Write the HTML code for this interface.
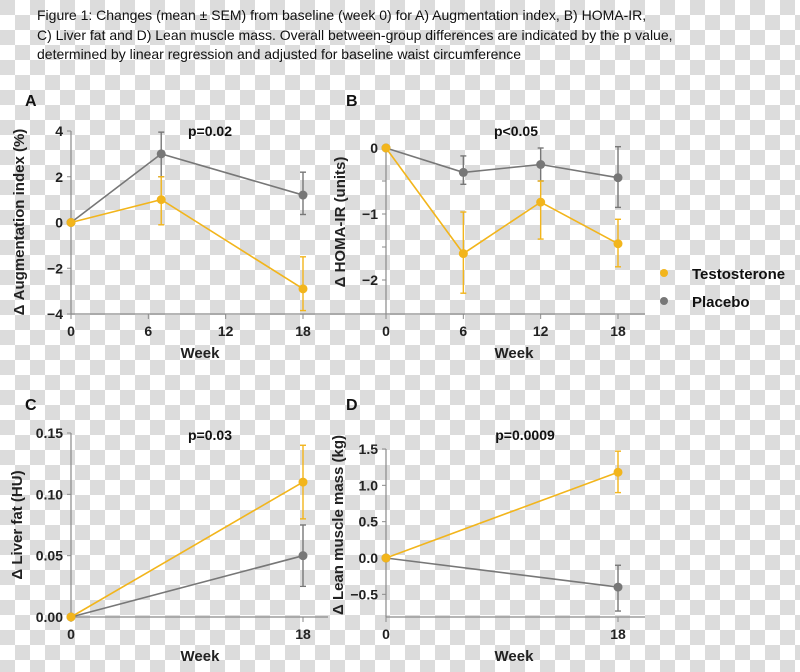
<!DOCTYPE html>
<html><head><meta charset="utf-8">
<style>
html,body{margin:0;padding:0;}
body{width:800px;height:672px;overflow:hidden;position:relative;
background-color:#fff;
background-image:
linear-gradient(45deg,#dcdcdc 25%,transparent 25%,transparent 75%,#dcdcdc 75%),
linear-gradient(45deg,#dcdcdc 25%,transparent 25%,transparent 75%,#dcdcdc 75%);
background-size:30px 30px;background-position:15px 0,0 15px;
font-family:"Liberation Sans",Arial,sans-serif;}
#title{position:absolute;left:37px;top:6px;font-size:14px;line-height:19.5px;color:#111;width:760px;}
svg{position:absolute;left:0;top:0;}
</style></head><body>
<div id="title">Figure 1: Changes (mean ± SEM) from baseline (week 0) for A) Augmentation index, B) HOMA-IR,<br>C) Liver fat and D) Lean muscle mass. Overall between-group differences are indicated by the p value,<br>determined by linear regression and adjusted for baseline waist circumference</div>
<svg id="chart" width="800" height="672"></svg>
<script>
// Panel A
const weeksA=[0,7,18];
const testoA=[0,1.0,-2.9];
const testoA_lo=[0,-0.1,-3.85];
const testoA_hi=[0,2.0,-1.5];
const placA=[0,3.0,1.2];
const placA_lo=[0,2.0,0.35];
const placA_hi=[0,3.95,2.2];
const ticksAy=[4,2,0,-2,-4];
const ticksAyLabels=["4","2","0","\u22122","\u22124"];
const ticksAx=[0,6,12,18];
// Panel B
const weeksB=[0,6,12,18];
const testoB=[0,-1.6,-0.82,-1.45];
const testoB_lo=[0,-2.2,-1.38,-1.8];
const testoB_hi=[0,-0.97,-0.5,-1.08];
const placB=[0,-0.37,-0.25,-0.45];
const placB_lo=[0,-0.55,-0.5,-0.9];
const placB_hi=[0,-0.12,0.0,0.02];
const ticksBy=[0,-1,-2];
const ticksByLabels=["0","\u22121","\u22122"];
const minorBy=[-0.5,-1.5];
const ticksBx=[0,6,12,18];
// Panel C
const weeksC=[0,18];
const testoC=[0,0.11];
const testoC_lo=[0,0.08];
const testoC_hi=[0,0.14];
const placC=[0,0.05];
const placC_lo=[0,0.025];
const placC_hi=[0,0.075];
const ticksCy=[0.15,0.10,0.05,0.00];
const ticksCyLabels=["0.15","0.10","0.05","0.00"];
const ticksCx=[0,18];
// Panel D
const weeksD=[0,18];
const testoD=[0,1.18];
const testoD_lo=[0,0.9];
const testoD_hi=[0,1.47];
const placD=[0,-0.4];
const placD_lo=[0,-0.73];
const placD_hi=[0,-0.1];
const ticksDy=[1.5,1.0,0.5,0.0,-0.5];
const ticksDyLabels=["1.5","1.0","0.5","0.0","\u22120.5"];
const ticksDx=[0,18];

const NS="http://www.w3.org/2000/svg";
const svg=document.getElementById('chart');
const ORANGE="#f2b51c", GRAY="#777777", AXIS="#8a8a8a";
function mk(tag,attrs,parent){const e=document.createElementNS(NS,tag);for(const k in attrs)e.setAttribute(k,attrs[k]);(parent||svg).appendChild(e);return e;}
function txt(s,attrs,parent){const e=mk('text',attrs,parent);e.textContent=s;return e;}

function panel(cfg){
  const g=mk('g',{});
  
  
  const X=w=>cfg.x0+(w-0)*(cfg.x1-cfg.x0)/(cfg.xmax);
  const Y=v=>cfg.yTop+(cfg.vTop-v)*(cfg.yBot-cfg.yTop)/(cfg.vTop-cfg.vBot);
  // panel letter
  const L=txt(cfg.letter,{x:cfg.lx,y:cfg.ly,'font-size':16,'font-weight':'bold',fill:'#111'},g);
  
  
  // axes
  const ya=mk('line',{x1:cfg.x0,x2:cfg.x0,y1:cfg.axTop,y2:cfg.axBot,stroke:AXIS,'stroke-width':1.2},g);
  
  
  const xa=mk('line',{x1:cfg.axL,x2:cfg.axR,y1:cfg.axBot,y2:cfg.axBot,stroke:AXIS,'stroke-width':1.2},g);
  
  
  cfg.yt.forEach((v,i)=>{
    mk('line',{x1:cfg.x0-4,x2:cfg.x0,y1:Y(v),y2:Y(v),stroke:AXIS},g);
    const t=txt(cfg.ytl[i],{x:cfg.x0-8,y:Y(v)+5,'text-anchor':'end','font-size':14,'font-weight':'bold',fill:'#222'},g);
    
    
  });
  (cfg.minor||[]).forEach(v=>{mk('line',{x1:cfg.x0-4,x2:cfg.x0,y1:Y(v),y2:Y(v),stroke:AXIS},g);});
  cfg.xt.forEach(w=>{
    mk('line',{x1:X(w),x2:X(w),y1:cfg.axBot,y2:cfg.axBot+5,stroke:AXIS},g);
    const t=txt(String(w),{x:X(w),y:cfg.axBot+22,'text-anchor':'middle','font-size':14,'font-weight':'bold',fill:'#222'},g);
    
    
  });
  const xt=txt('Week',{x:cfg.wx,y:cfg.wy,'text-anchor':'middle','font-size':15,'font-weight':'bold',fill:'#222'},g);
  
  
  const yt=txt(cfg.ylabel,{x:0,y:0,'text-anchor':'middle','font-size':15,'font-weight':'bold',fill:'#222',transform:`translate(${cfg.ylx},${cfg.yly}) rotate(-90)`},g);
  
  
  const p=txt(cfg.p,{x:cfg.px,y:cfg.py,'text-anchor':'middle','font-size':14,'font-weight':'bold',fill:'#111'},g);
  
  
  function series(vals,lo,hi,color,name){
    const pts=cfg.weeks.map((w,i)=>X(w)+','+Y(vals[i])).join(' ');
    const pl=mk('polyline',{points:pts,fill:'none',stroke:color,'stroke-width':1.6},g);
    
    
    cfg.weeks.forEach((w,i)=>{
      if(hi[i]!==lo[i]){
        const eb=mk('g',{stroke:color,'stroke-width':1.4},g);
        
        
        mk('line',{x1:X(w),x2:X(w),y1:Y(lo[i]),y2:Y(hi[i])},eb);
        mk('line',{x1:X(w)-3,x2:X(w)+3,y1:Y(lo[i]),y2:Y(lo[i])},eb);
        mk('line',{x1:X(w)-3,x2:X(w)+3,y1:Y(hi[i]),y2:Y(hi[i])},eb);
      }
      const c=mk('circle',{cx:X(w),cy:Y(vals[i]),r:4.5,fill:color},g);
      
      
    });
  }
  series(cfg.pl,cfg.plLo,cfg.plHi,GRAY,'placebo');
  series(cfg.te,cfg.teLo,cfg.teHi,ORANGE,'testosterone');
}

panel({id:'a',letter:'A',lx:25,ly:106,weeks:weeksA,te:testoA,teLo:testoA_lo,teHi:testoA_hi,pl:placA,plLo:placA_lo,plHi:placA_hi,
  x0:71,x1:303,xmax:18,yTop:131,yBot:314,vTop:4,vBot:-4,axTop:131,axBot:314,axL:71,axR:320,
  yt:ticksAy,ytl:ticksAyLabels,xt:ticksAx,wx:200,wy:358,ylabel:'\u0394 Augmentation index (%)',ylx:24,yly:222,p:'p=0.02',px:210,py:136});
panel({id:'b',letter:'B',lx:346,ly:106,weeks:weeksB,te:testoB,teLo:testoB_lo,teHi:testoB_hi,pl:placB,plLo:placB_lo,plHi:placB_hi,
  x0:386,x1:618,xmax:18,yTop:148,yBot:280,vTop:0,vBot:-2,axTop:148,axBot:314,axL:320,axR:645,
  yt:ticksBy,ytl:ticksByLabels,minor:minorBy,xt:ticksBx,wx:514,wy:358,ylabel:'\u0394 HOMA-IR  (units)',ylx:345,yly:222,p:'p<0.05',px:516,py:136});
panel({id:'c',letter:'C',lx:25,ly:410,weeks:weeksC,te:testoC,teLo:testoC_lo,teHi:testoC_hi,pl:placC,plLo:placC_lo,plHi:placC_hi,
  x0:71,x1:303,xmax:18,yTop:433,yBot:617,vTop:0.15,vBot:0,axTop:433,axBot:617,axL:71,axR:328,
  yt:ticksCy,ytl:ticksCyLabels,xt:ticksCx,wx:200,wy:661,ylabel:'\u0394 Liver fat (HU)',ylx:22,yly:525,p:'p=0.03',px:210,py:440});
panel({id:'d',letter:'D',lx:346,ly:410,weeks:weeksD,te:testoD,teLo:testoD_lo,teHi:testoD_hi,pl:placD,plLo:placD_lo,plHi:placD_hi,
  x0:386,x1:618,xmax:18,yTop:449,yBot:558,vTop:1.5,vBot:0,axTop:449,axBot:617,axL:386,axR:645,
  yt:ticksDy,ytl:ticksDyLabels,xt:ticksDx,wx:514,wy:661,ylabel:'\u0394 Lean muscle mass (kg)',ylx:343,yly:525,p:'p=0.0009',px:525,py:440});

// legend
const lg=mk('g',{});


const legNames=['Testosterone','Placebo'];
const legColors=[ORANGE,GRAY];
legNames.forEach((n,i)=>{
  const e=mk('g',{},lg);
  
  
  mk('circle',{cx:664,cy:273+i*28,r:4,fill:legColors[i]},e);
  txt(n,{x:692,y:279+i*28,'font-size':15,'font-weight':'bold',fill:'#111'},e);
});
</script>
</body></html>
